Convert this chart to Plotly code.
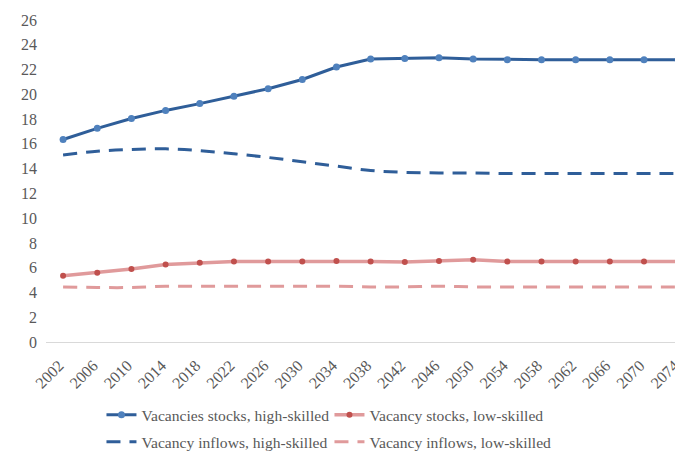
import plotly.graph_objects as go

years = list(range(2002, 2075, 4))
year_labels = [str(y) for y in years]

high_stocks = [16.35, 17.25, 18.05, 18.7, 19.25, 19.85, 20.45, 21.2, 22.2, 22.85, 22.9, 22.95, 22.85, 22.8, 22.8, 22.8, 22.8, 22.8, 22.8]
low_stocks = [5.35, 5.6, 5.9, 6.25, 6.4, 6.5, 6.5, 6.5, 6.55, 6.5, 6.45, 6.55, 6.65, 6.5, 6.5, 6.5, 6.5, 6.5, 6.5]
high_inflows = [15.1, 15.4, 15.55, 15.6, 15.45, 15.2, 14.9, 14.55, 14.2, 13.85, 13.7, 13.65, 13.65, 13.6, 13.6, 13.6, 13.6, 13.6, 13.6]
low_inflows = [4.45, 4.4, 4.4, 4.5, 4.5, 4.5, 4.5, 4.5, 4.5, 4.45, 4.45, 4.5, 4.45, 4.45, 4.45, 4.45, 4.45, 4.45, 4.45]

series_names = ["Vacancies stocks, high-skilled", "Vacancy stocks, low-skilled",
                "Vacancy inflows, high-skilled", "Vacancy inflows, low-skilled"]

BLUE = "#2F5E99"
BLUE_M = "#4F81BD"
RED = "#E09A9B"
RED_M = "#C0504D"
TXT = "#595959"
FONT = "Liberation Serif"

fig = go.Figure()
fig.add_trace(go.Scatter(x=years, y=high_stocks, name=series_names[0], mode="lines+markers",
                         line=dict(color=BLUE, width=3), marker=dict(color=BLUE_M, size=7),
                         legend="legend"))
fig.add_trace(go.Scatter(x=years, y=low_stocks, name=series_names[1], mode="lines+markers",
                         line=dict(color=RED, width=3.5), marker=dict(color=RED_M, size=6),
                         legend="legend"))
fig.add_trace(go.Scatter(x=years, y=high_inflows, name=series_names[2], mode="lines",
                         line=dict(color=BLUE, width=3, dash="14px,9px", shape="spline"),
                         legend="legend2"))
fig.add_trace(go.Scatter(x=years, y=low_inflows, name=series_names[3], mode="lines",
                         line=dict(color=RED, width=3, dash="14px,9px", shape="spline"),
                         legend="legend2"))

leg_common = dict(orientation="h", xanchor="left", yanchor="middle",
                  entrywidth=183, entrywidthmode="pixels", bgcolor="rgba(0,0,0,0)",
                  font=dict(family=FONT, size=15.6, color=TXT))

fig.update_layout(
    width=683, height=451,
    margin=dict(l=38, r=0, t=12, b=116),
    plot_bgcolor="white", paper_bgcolor="white",
    font=dict(family=FONT, size=16, color=TXT),
    showlegend=True,
    legend=dict(x=0.086, y=-0.223, **leg_common),
    legend2=dict(x=0.086, y=-0.31, **leg_common),
)
fig.update_xaxes(range=[2000, 2075.5], tickmode="array", tickvals=years, ticktext=year_labels,
                 tickangle=-45, showgrid=False, showline=True, linecolor="#D9D9D9", linewidth=1,
                 ticks="", zeroline=False, automargin=False, ticklabeloverflow="allow",
                 ticklabelstandoff=7, ticklabelshift=-4,
                 tickfont=dict(family=FONT, size=16, color=TXT))
fig.update_yaxes(range=[0, 26], dtick=2, showgrid=False, showline=False, zeroline=False,
                 ticks="", automargin=False, tickfont=dict(family=FONT, size=16, color=TXT),
                 ticklabelstandoff=8)

fig.write_html("out.html")
